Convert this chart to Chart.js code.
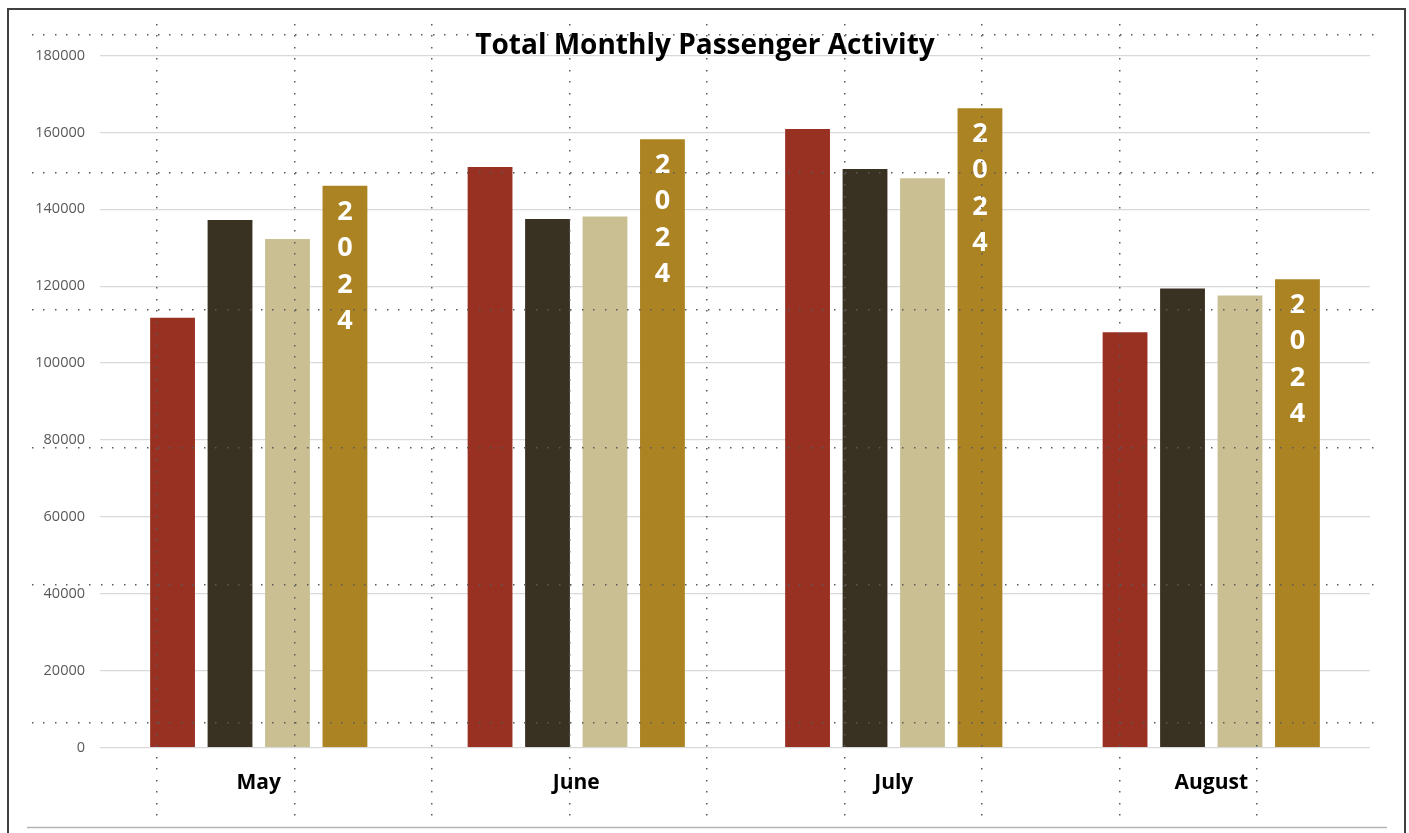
<!DOCTYPE html>
<html>
<head>
<meta charset="utf-8">
<script src="https://cdn.jsdelivr.net/npm/chart.js@4"></script>
<style>
html,body{margin:0;padding:0;background:#fff;}
#wrap{width:1409px;height:833px;position:relative;}
canvas{display:block;}
</style>
</head>
<body>
<div id="wrap"><canvas id="c" width="1409" height="833"></canvas></div>
<script>
const title = 'Total Monthly Passenger Activity';
const categories = ['May', 'June', 'July', 'August'];
const seriesNames = ['2021', '2022', '2023', '2024'];
const series2021 = [111800, 151000, 160900, 108000];
const series2022 = [137200, 137500, 150500, 119400];
const series2023 = [132300, 138100, 148100, 117600];
const series2024 = [146100, 158200, 166300, 121800];
const yMax = 180000;
const yStep = 20000;

const colors = ['#993123', '#393122', '#CABF92', '#AB8322'];
const FONT = '"Open Sans", Lato, sans-serif';

const overlay = {
  id: 'overlay',
  beforeDraw(chart) {
    const ctx = chart.ctx;
    ctx.save();
    ctx.fillStyle = '#ffffff';
    ctx.fillRect(0, 0, chart.width, chart.height);
    ctx.restore();
  },
  afterDatasetsDraw(chart) {
    const ctx = chart.ctx;
    const meta = chart.getDatasetMeta(3);
    const label = chart.data.datasets[3].label;
    ctx.save();
    ctx.fillStyle = '#ffffff';
    ctx.font = 'bold 27px ' + FONT;
    ctx.textAlign = 'center';
    ctx.textBaseline = 'middle';
    meta.data.forEach(bar => {
      for (let k = 0; k < label.length; k++) {
        ctx.fillText(label[k], bar.x, bar.y + 26 + k * 36.5);
      }
    });
    ctx.restore();
  },
  afterDraw(chart) {
    const ctx = chart.ctx;
    ctx.save();
    // title
    ctx.fillStyle = '#000000';
    ctx.font = 'bold 28px ' + FONT;
    ctx.textAlign = 'center';
    ctx.textBaseline = 'middle';
    ctx.fillText(title, 705, 46);
    // dotted overlay grid
    ctx.fillStyle = '#5a5a5a';
    const hy = [35, 172.5, 310, 447.5, 585, 722.5];
    const vx = [157, 294.5, 432, 569.5, 707, 844.5, 982, 1119.5, 1257];
    for (const y of hy) {
      for (let x = 32; x <= 1380; x += 11.45) ctx.fillRect(Math.round(x), Math.round(y) - 1, 1.5, 1.5);
    }
    for (const x of vx) {
      for (let y = 24; y <= 815; y += 11.45) ctx.fillRect(Math.round(x) - 1, Math.round(y), 1.5, 1.5);
    }
    // frame
    ctx.strokeStyle = '#404040';
    ctx.lineWidth = 2;
    ctx.strokeRect(8, 9, 1397, 840);
    ctx.strokeStyle = '#b5b5b5';
    ctx.lineWidth = 1.5;
    ctx.beginPath();
    ctx.moveTo(27, 827.5);
    ctx.lineTo(1387, 827.5);
    ctx.stroke();
    ctx.restore();
  }
};

const datasets = [series2021, series2022, series2023, series2024].map((d, i) => ({
  label: seriesNames[i],
  data: d,
  backgroundColor: colors[i],
  borderWidth: 0,
  barPercentage: 0.78,
  categoryPercentage: 0.724
}));

new Chart(document.getElementById('c'), {
  type: 'bar',
  data: { labels: categories, datasets },
  plugins: [overlay],
  options: {
    responsive: false,
    animation: false,
    devicePixelRatio: 1,
    layout: { padding: { top: 55.5, right: 39, bottom: 25.5, left: 0 } },
    plugins: {
      legend: { display: false },
      title: { display: false },
      tooltip: { enabled: false }
    },
    scales: {
      x: {
        grid: { display: false, drawTicks: false },
        border: { display: false },
        ticks: { color: '#000000', font: { family: FONT, size: 21, weight: 'bold' }, padding: 23, maxRotation: 0 },
        afterFit(s) { s.height = 60; }
      },
      y: {
        min: 0,
        max: yMax,
        grid: { color: '#d9d9d9', lineWidth: 1.2, drawTicks: false },
        border: { display: false },
        ticks: { stepSize: yStep, color: '#595959', font: { family: FONT, size: 14.5 }, padding: 15, callback: v => String(v) },
        afterFit(s) { s.width = 100; }
      }
    }
  }
});
</script>
</body>
</html>
